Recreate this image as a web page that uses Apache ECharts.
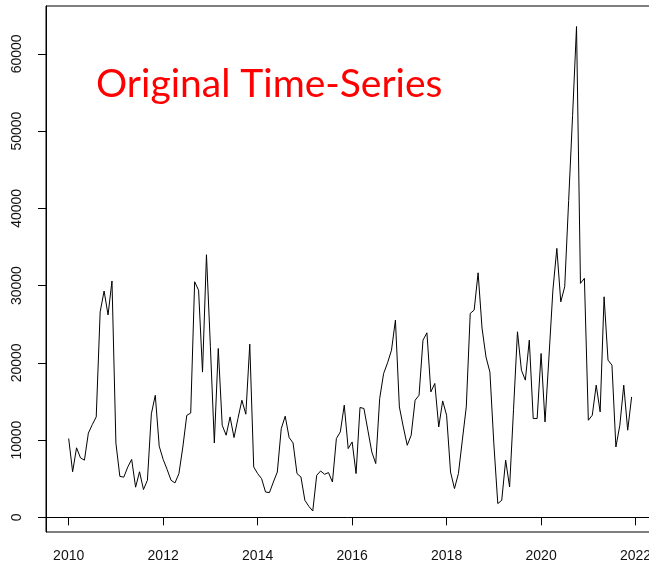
<!DOCTYPE html>
<html>
<head>
<meta charset="utf-8">
<script src="https://cdn.jsdelivr.net/npm/echarts@6/dist/echarts.min.js"></script>
<style>
html,body{margin:0;padding:0;background:#fff;}
#chart{width:649px;height:569px;}
</style>
</head>
<body>
<div id="chart"></div>
<script>
// Monthly values, Jan..Dec of each year
const startYear = 2010;
const v2010 = [10200, 5900, 9000, 7700, 7400, 10900, 12000, 13000, 26600, 29300, 26200, 30600];
const v2011 = [9600, 5300, 5200, 6500, 7500, 3900, 5900, 3600, 4800, 13400, 15800, 9200];
const v2012 = [7500, 6200, 4800, 4450, 5660, 9100, 13200, 13500, 30500, 29400, 18800, 34000];
const v2013 = [22100, 9630, 21860, 11920, 10630, 13000, 10330, 12800, 15160, 13350, 22420, 6520];
const v2014 = [5660, 5010, 3280, 3200, 4570, 5870, 11490, 13090, 10330, 9630, 5660, 5220];
const v2015 = [2200, 1430, 820, 5440, 6000, 5570, 5790, 4570, 10200, 11060, 14520, 8900];
const v2016 = [9760, 5660, 14220, 14090, 11280, 8460, 6960, 15380, 18620, 20000, 21640, 25530];
const v2017 = [14300, 11700, 9330, 10630, 15160, 15810, 22940, 23890, 16240, 17330, 11700, 15070];
const v2018 = [13220, 5870, 3720, 5660, 10000, 14300, 26400, 26830, 31660, 24500, 20770, 18800];
const v2019 = [9500, 1780, 2200, 7390, 3930, 14000, 24020, 19050, 17760, 22940, 12790, 12790];
const v2020 = [21210, 12350, 20770, 29420, 34820, 27900, 29850, 41000, 52000, 63540, 30290, 30940];
const v2021 = [12570, 13220, 17110, 13650, 28550, 20350, 19700, 9110, 11920, 17110, 11280, 15590];
const years = [v2010, v2011, v2012, v2013, v2014, v2015, v2016, v2017, v2018, v2019, v2020, v2021];

const xTicks = [2010, 2012, 2014, 2016, 2018, 2020, 2022];
const yTicks = [0, 10000, 20000, 30000, 40000, 50000, 60000];
const titleText = 'Original Time-Series';

const data = [];
years.forEach((arr, i) => arr.forEach((v, m) => data.push([startYear + i + m / 12, v])));

const chart = echarts.init(document.getElementById('chart'), null, {renderer: 'canvas'});
const labelFont = {fontFamily: 'Liberation Sans, Arial, sans-serif', fontSize: 14, color: '#111'};
chart.setOption({
  animation: false,
  backgroundColor: '#fff',
  title: {
    text: titleText,
    left: 91,
    top: 60,
    textStyle: {color: '#ff0000', fontSize: 39, fontWeight: 'normal', fontFamily: 'Lato, sans-serif'}
  },
  grid: {left: 46, top: 6, right: -5, bottom: 37, show: true, borderColor: '#000', borderWidth: 1,
         backgroundColor: 'transparent', containLabel: false, outerBoundsMode: 'none'},
  xAxis: {
    type: 'value', min: 2009.52, max: 2022.39,
    splitLine: {show: false},
    axisLine: {show: true, lineStyle: {color: '#000', width: 1}},
    axisTick: {show: true, length: 8, customValues: xTicks, lineStyle: {color: '#000'}},
    axisLabel: Object.assign({customValues: xTicks, margin: 17, formatter: v => String(v)}, labelFont)
  },
  yAxis: {
    type: 'value', min: -1900, max: 66200,
    splitLine: {show: false},
    axisLine: {show: true, lineStyle: {color: '#000', width: 1}},
    axisTick: {show: true, length: 8, customValues: yTicks, lineStyle: {color: '#000'}},
    axisLabel: Object.assign({customValues: yTicks, rotate: 90, margin: 22, formatter: v => String(v)}, labelFont)
  },
  series: [{
    type: 'line',
    data: data,
    showSymbol: false,
    symbol: 'none',
    lineStyle: {color: '#000', width: 1},
    silent: true
  }]
});
</script>
</body>
</html>
